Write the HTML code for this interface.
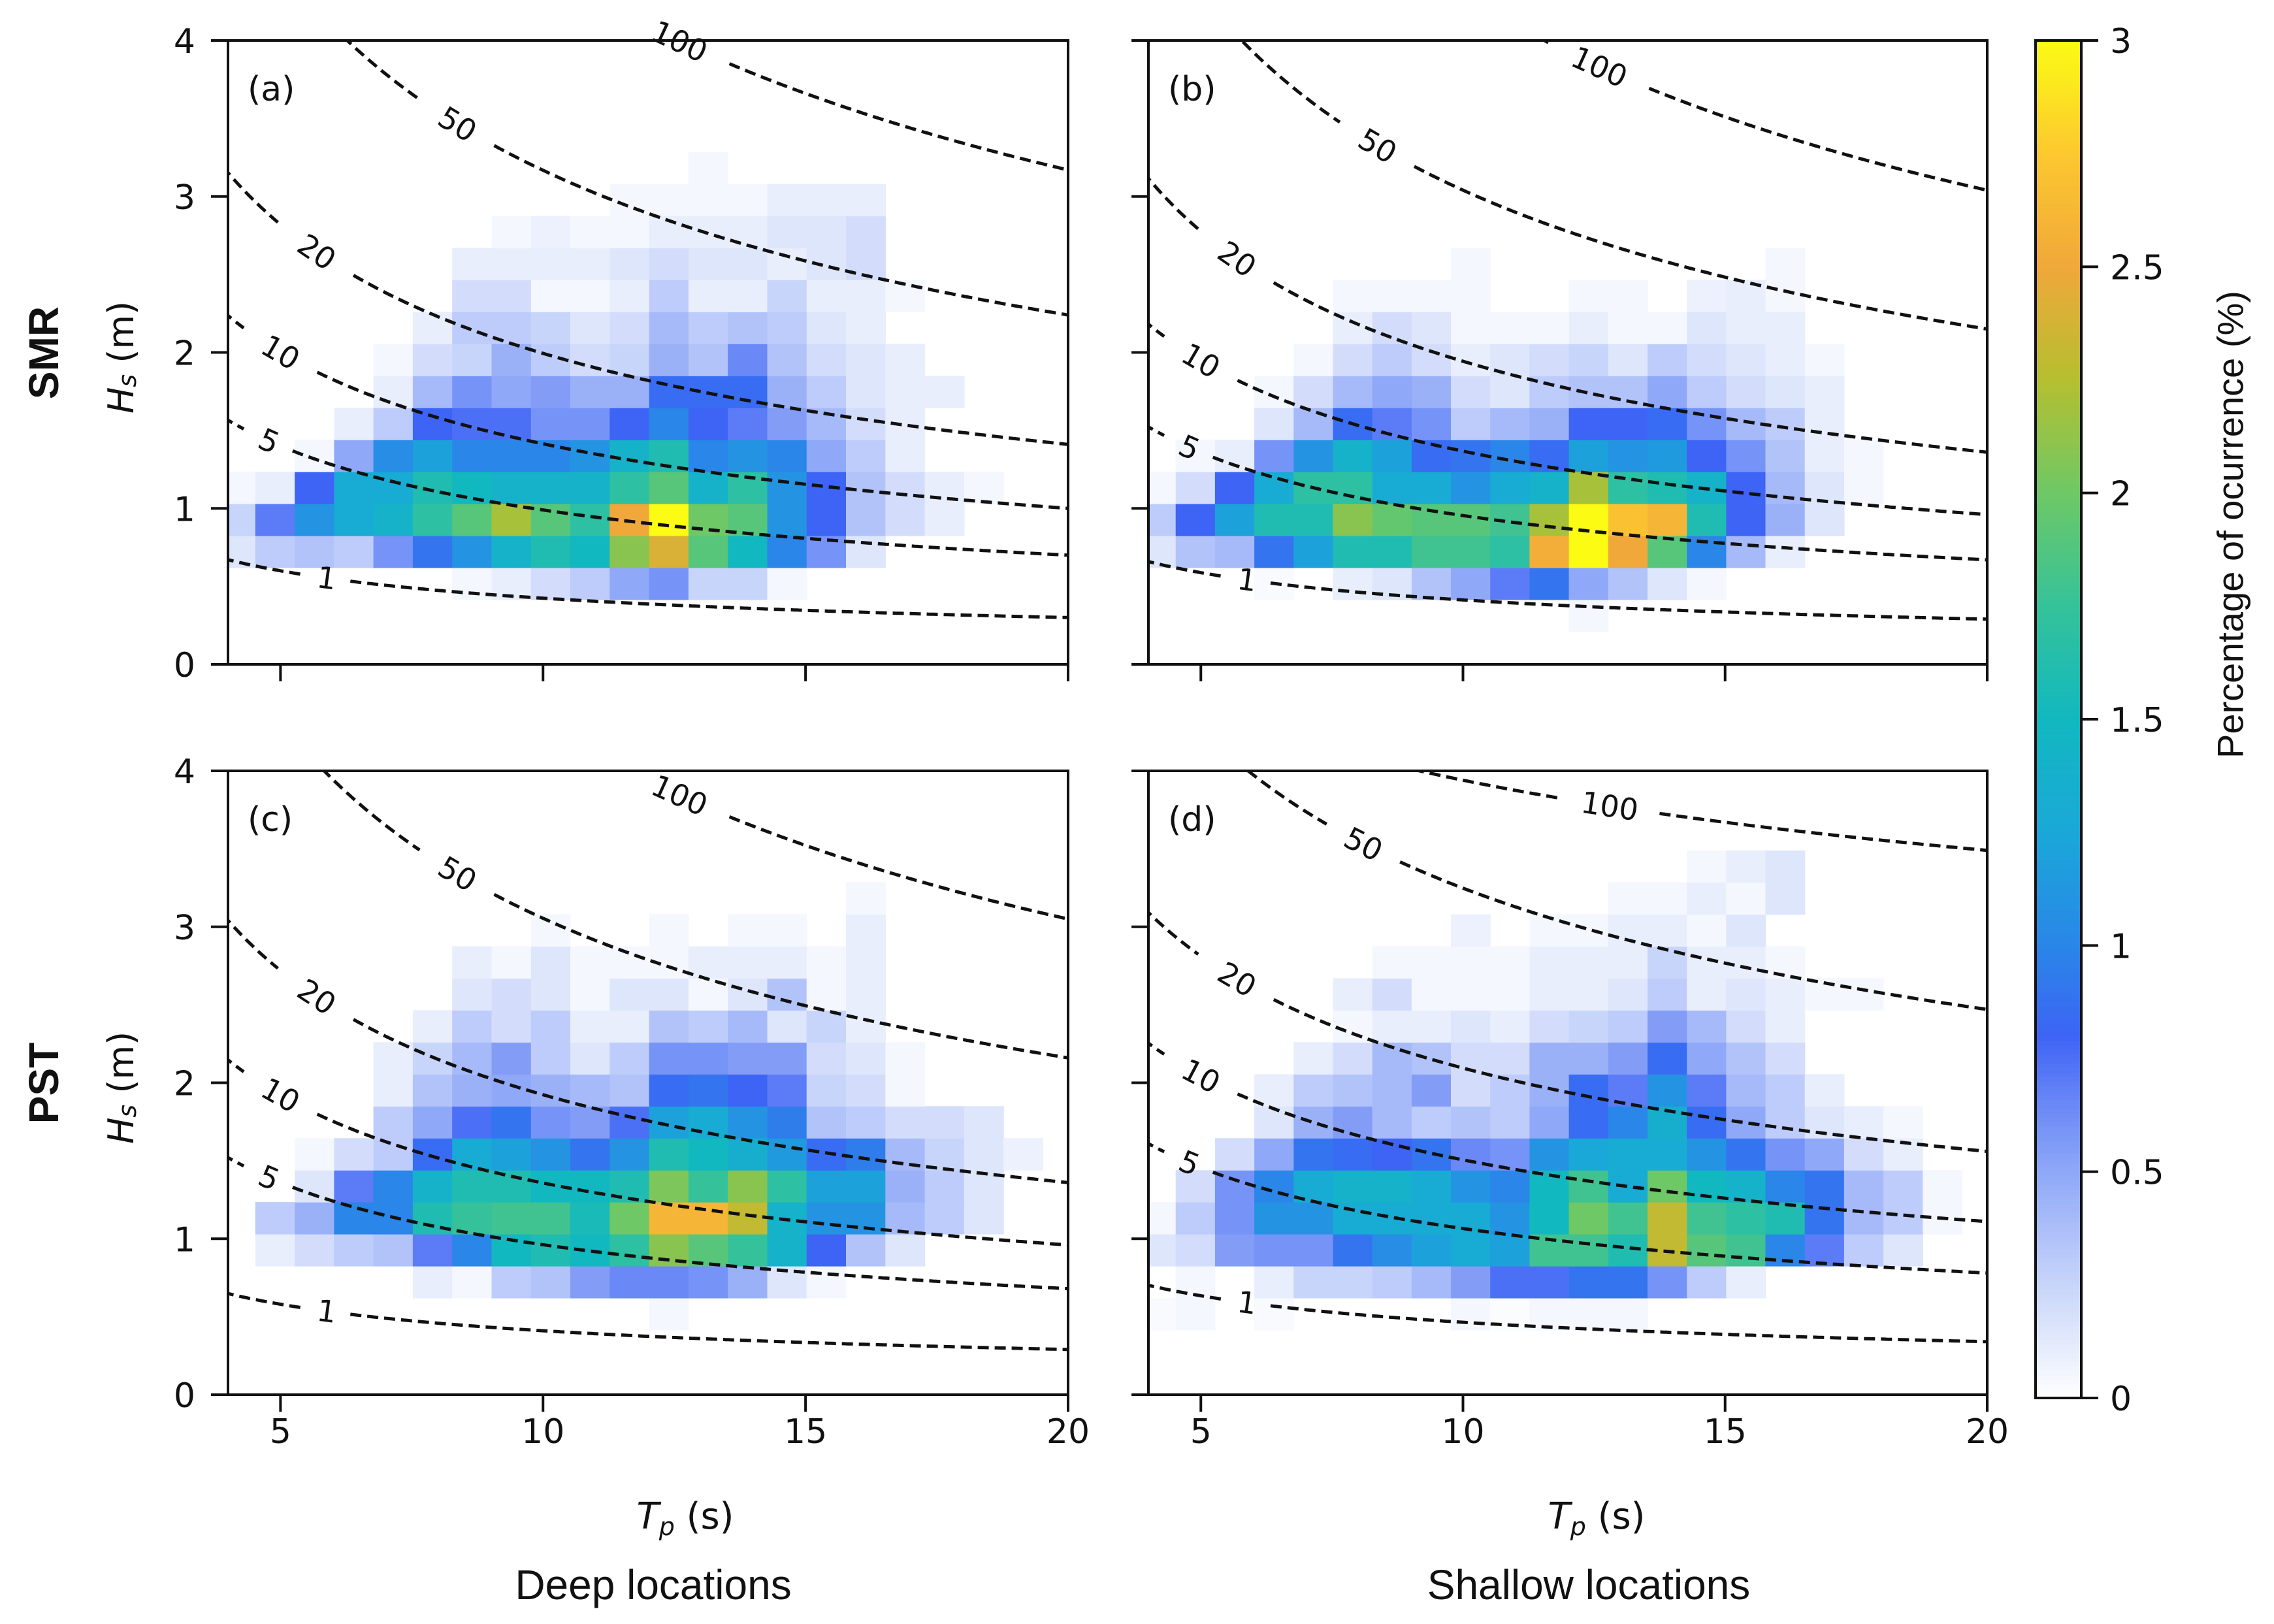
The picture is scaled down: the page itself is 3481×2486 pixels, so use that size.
<!DOCTYPE html>
<html><head><meta charset="utf-8"><style>
html,body{margin:0;padding:0;background:#fff}
svg{display:block}
text{font-family:"DejaVu Sans","Liberation Sans",sans-serif;fill:#111}
</style></head><body>
<svg id="fig" width="3481" height="2486" viewBox="0 0 3481 2486" xmlns="http://www.w3.org/2000/svg">
<defs>
<clipPath id="clipTop1"><rect x="349" y="62" width="1286" height="955"/></clipPath>
<clipPath id="clipTop2"><rect x="1758" y="62" width="1284" height="955"/></clipPath>
<clipPath id="clipBot1"><rect x="349" y="1180" width="1286" height="955"/></clipPath>
<clipPath id="clipBot2"><rect x="1758" y="1180" width="1284" height="955"/></clipPath>
</defs>
<g id="root"></g>
</svg>
<script>
// ---- data ----
const tpBinStart = [3.77,4.52,5.27,6.02,6.77,7.52,8.27,9.02,9.77,10.52,11.27,12.02,12.77,13.52,14.27,15.02,15.77,16.52,17.27,18.02,18.77,19.52];
const hsBinStart = [0.21,0.415,0.62,0.825,1.03,1.235,1.44,1.645,1.85,2.055,2.26,2.465,2.67,2.875,3.08,3.285];
const tpBinWidth = 0.75;
const hsBinWidth = 0.205;
const contourLevels = [1,5,10,20,50,100];
const contourLabelTp = [5.88,4.78,5.0,5.69,8.37,12.6];
const xTicks = [5,10,15,20];
const yTicks = [0,1,2,3,4];
const cbTicks = [0,0.5,1,1.5,2,2.5,3];
const cbTickLabels = ["0","0.5","1","1.5","2","2.5","3"];

const panelA = [
[0,0,0,0,0,0,0,0,0,0,0,0,0,0,0,0,0,0,0,0,0,0],
[0,0,0,0,0,0,.05,.1,.2,.3,.5,.6,.25,.25,.05,0,0,0,0,0,0,0],
[.15,.3,.35,.3,.6,.9,1.1,1.4,1.6,1.5,2.1,2.4,1.9,1.5,1.0,.6,.15,0,0,0,0,0],
[.25,.7,1.1,1.3,1.4,1.7,1.9,2.2,1.9,1.7,2.5,3.0,2.0,1.9,1.1,.8,.35,.2,.1,0,0,0],
[.05,.1,.8,1.3,1.3,1.6,1.5,1.4,1.4,1.4,1.7,1.9,1.4,1.7,1.1,.8,.35,.2,.1,.05,0,0],
[0,0,.05,.5,1.05,1.2,1.0,1.0,1.0,1.1,1.4,1.6,1.0,1.1,1.0,.5,.3,.1,0,0,0,0],
[0,0,0,.1,.3,.8,.75,.75,.6,.6,.8,1.0,.8,.7,.55,.4,.2,.1,0,0,0,0],
[0,0,0,0,.1,.4,.6,.5,.55,.45,.45,.85,.85,.85,.45,.3,.15,.1,.1,0,0,0],
[0,0,0,0,.05,.2,.25,.45,.3,.2,.25,.45,.35,.65,.35,.2,.15,.1,0,0,0,0],
[0,0,0,0,0,.1,.3,.3,.25,.15,.2,.4,.3,.35,.3,.15,.1,0,0,0,0,0],
[0,0,0,0,0,0,.2,.2,.05,.05,.1,.3,.1,.1,.25,.1,.1,.05,0,0,0,0],
[0,0,0,0,0,0,.1,.1,.1,.1,.15,.2,.15,.15,.1,.15,.2,0,0,0,0,0],
[0,0,0,0,0,0,0,.05,.08,.05,.05,.1,.1,.1,.15,.15,.2,0,0,0,0,0],
[0,0,0,0,0,0,0,0,0,0,.05,.05,.05,.05,.1,.1,.1,0,0,0,0,0],
[0,0,0,0,0,0,0,0,0,0,0,0,.05,0,0,0,0,0,0,0,0,0]
];
const panelB = [
[0,0,0,0,0,0,0,0,0,0,0,.05,0,0,0,0,0,0,0,0,0,0],
[0,0,0,.03,0,.1,.15,.35,.5,.7,.9,.5,.35,.15,.05,0,0,0,0,0,0,0],
[.15,.35,.4,.9,1.2,1.6,1.6,1.8,1.8,1.7,2.55,3.0,2.5,1.9,1.0,.4,.1,0,0,0,0,0],
[.3,.8,1.2,1.6,1.6,2.1,1.95,1.9,1.9,1.8,2.2,3.0,2.7,2.6,1.6,.8,.45,.15,0,0,0,0],
[.05,.2,.8,1.3,1.7,1.7,1.3,1.3,1.1,1.3,1.4,2.2,1.7,1.6,1.4,.8,.4,.15,.05,0,0,0],
[0,.05,.1,.6,1.1,1.4,1.2,.85,.9,1.0,.85,1.2,1.1,1.15,.8,.6,.35,.1,.05,0,0,0],
[0,0,0,.15,.4,.85,.7,.6,.3,.4,.45,.8,.8,.85,.6,.4,.3,.1,0,0,0,0],
[0,0,0,.05,.2,.4,.5,.45,.2,.15,.3,.35,.35,.5,.3,.2,.15,.1,0,0,0,0],
[0,0,0,0,.05,.2,.3,.2,.1,.15,.2,.25,.15,.3,.2,.15,.1,.05,0,0,0,0],
[0,0,0,0,0,.1,.2,.15,.05,.05,.05,.1,.05,.05,.15,.1,.1,0,0,0,0,0],
[0,0,0,0,0,.05,.05,.05,.05,0,0,.05,.05,0,.08,.1,.05,0,0,0,0,0],
[0,0,0,0,0,0,0,0,.05,0,0,0,0,0,0,0,.05,0,0,0,0,0]
];
const panelC = [
[0,0,0,0,0,0,0,0,0,0,0,0,0,0,0,0,0,0,0,0,0,0],
[0,0,0,0,0,0,0,0,0,0,0,.05,0,0,0,0,0,0,0,0,0,0],
[0,0,0,0,0,.1,.05,.3,.35,.55,.65,.65,.6,.45,.15,.05,0,0,0,0,0,0],
[0,.1,.2,.3,.35,.7,1.0,1.5,1.6,1.5,1.7,2.1,1.9,1.75,1.4,.8,.35,.15,0,0,0,0],
[0,.3,.45,1.0,1.0,1.6,1.75,1.8,1.8,1.55,2.0,2.6,2.6,2.3,1.4,1.1,1.1,.4,.3,.15,0,0],
[0,0,.15,.7,1.0,1.4,1.6,1.6,1.5,1.5,1.6,2.05,1.75,2.1,1.7,1.2,1.2,.45,.3,.15,0,0],
[0,0,.05,.2,.3,.85,1.3,1.2,1.1,.9,1.1,1.6,1.5,1.35,1.15,.85,.95,.4,.25,.15,.08,0],
[0,0,0,0,.3,.5,.75,.9,.6,.55,.75,1.2,1.3,1.1,.95,.35,.3,.2,.2,.15,0,0],
[0,0,0,0,.1,.35,.45,.5,.45,.4,.35,.85,.9,.8,.7,.25,.2,.05,0,0,0,0],
[0,0,0,0,.1,.25,.4,.55,.3,.15,.3,.6,.6,.55,.55,.2,.15,.05,0,0,0,0],
[0,0,0,0,0,.1,.3,.2,.3,.1,.1,.35,.3,.4,.15,.25,.1,0,0,0,0,0],
[0,0,0,0,0,0,.15,.2,.15,.05,.15,.15,.05,.15,.35,.05,.1,0,0,0,0,0],
[0,0,0,0,0,0,.1,.05,.15,.05,.05,.05,.1,.1,.1,.05,.1,0,0,0,0,0],
[0,0,0,0,0,0,0,0,.05,0,0,.05,0,.05,.05,0,.1,0,0,0,0,0],
[0,0,0,0,0,0,0,0,0,0,0,0,0,0,0,0,.05,0,0,0,0,0]
];
const panelD = [
[0,0,0,0,0,0,0,0,0,0,0,0,0,0,0,0,0,0,0,0,0,0],
[.03,.05,0,.03,0,0,0,0,.05,.02,.05,.05,.05,0,0,0,0,0,0,0,0,0],
[0,.05,0,.1,.25,.25,.3,.4,.55,.75,.75,.9,.9,.6,.3,.1,0,0,0,0,0,0],
[.15,.2,.55,.6,.6,.9,1.05,1.2,1.3,1.2,1.8,1.8,1.6,2.3,1.9,1.8,1.0,.7,.3,.15,0,0],
[.05,.3,.6,1.1,1.1,1.3,1.3,1.3,1.3,1.1,1.5,2.0,1.8,2.3,1.8,1.7,1.6,.9,.4,.3,.05,0],
[0,.2,.6,1.0,1.3,1.4,1.4,1.3,1.1,1.0,1.5,1.8,1.3,2.0,1.5,1.4,1.0,.9,.4,.3,.05,0],
[0,0,.2,.5,.9,.85,.8,.9,.65,.6,1.1,1.25,1.3,1.3,1.1,.9,.6,.5,.2,.1,0,0],
[0,0,0,.15,.45,.55,.4,.3,.35,.3,.5,.85,1.0,1.35,.85,.5,.3,.15,.1,.05,0,0],
[0,0,0,.1,.3,.35,.4,.55,.2,.3,.45,.85,.7,1.1,.7,.4,.3,.1,0,0,0,0],
[0,0,0,0,.1,.2,.4,.35,.2,.2,.45,.45,.55,.85,.5,.35,.2,0,0,0,0,0],
[0,0,0,0,0,.05,.1,.1,.15,.1,.2,.25,.3,.55,.4,.2,.1,0,0,0,0,0],
[0,0,0,0,0,.1,.2,.05,.05,.05,.1,.1,.15,.3,.1,.15,.1,.05,.05,0,0,0],
[0,0,0,0,0,0,.05,.05,.05,.05,.1,.1,.1,.25,.1,.1,.05,0,0,0,0,0],
[0,0,0,0,0,0,0,0,.08,0,.05,.05,.1,.1,.05,.15,0,0,0,0,0,0],
[0,0,0,0,0,0,0,0,0,0,0,0,.05,.05,.1,.05,.15,0,0,0,0,0],
[0,0,0,0,0,0,0,0,0,0,0,0,0,0,.05,.1,.15,0,0,0,0,0]
];
// contour curves: Hs(Tp) = endHs * sqrt((20/Tp)^exponent), per panel per level
const contourEndHsA = [0.30,0.70,1.00,1.41,2.24,3.17];
const contourEndHsB = [0.29,0.67,0.96,1.36,2.15,3.04];
const contourEndHsC = [0.29,0.68,0.96,1.36,2.16,3.05];
const contourEndHsD = [0.34,0.78,1.11,1.56,2.47,3.49];
const contourExpA = [1,1,1,1,1,1];
const contourExpB = [1.02,1.02,1.02,1.03,1.0,1.0];
const contourExpC = [1,1,1,1,1,1];
const contourExpD = [0.9,0.9,0.88,0.85,0.79,0.35];
const labelTpD = [5.88,4.78,5.0,5.69,8.1,12.8];

// ---- colormap ----
const cmStops = [[0,[255,255,255]],[0.1,[232,238,252]],[0.25,[200,213,250]],[0.5,[143,168,248]],[0.65,[106,136,246]],[0.8,[61,100,245]],[1.0,[42,134,232]],[1.25,[26,168,216]],[1.5,[18,184,192]],[1.75,[53,194,154]],[2.0,[110,200,102]],[2.25,[181,191,48]],[2.5,[240,168,58]],[2.75,[252,200,48]],[3.0,[251,251,20]]];
function cmap(v){
  if(v<=0) return 'rgb(255,255,255)';
  if(v>=3) v=3;
  for(let i=1;i<cmStops.length;i++){
    if(v<=cmStops[i][0]){
      const [a,ca]=cmStops[i-1],[b,cb]=cmStops[i];const t=(v-a)/(b-a);
      return 'rgb('+ca.map((c,j)=>Math.round(c+(cb[j]-c)*t)).join(',')+')';
    }
  }
}
const NS='http://www.w3.org/2000/svg';
const root=document.getElementById('root');
function mk(tag,attrs,parent){const e=document.createElementNS(NS,tag);for(const k in attrs)e.setAttribute(k,attrs[k]);(parent||root).appendChild(e);return e;}
function txt(s,attrs,parent){const e=mk('text',attrs,parent);e.textContent=s;return e;}

const panels=[
 {id:'a',x0:349,x1:1635,yb:1017,yt:62,data:panelA,clip:'clipTop1',ticklabels:false,endHs:contourEndHsA,exp:contourExpA,ltp:contourLabelTp},
 {id:'b',x0:1758,x1:3042,yb:1017,yt:62,data:panelB,clip:'clipTop2',ticklabels:false,endHs:contourEndHsB,exp:contourExpB,ltp:contourLabelTp},
 {id:'c',x0:349,x1:1635,yb:2135,yt:1180,data:panelC,clip:'clipBot1',ticklabels:true,endHs:contourEndHsC,exp:contourExpC,ltp:contourLabelTp},
 {id:'d',x0:1758,x1:3042,yb:2135,yt:1180,data:panelD,clip:'clipBot2',ticklabels:true,endHs:contourEndHsD,exp:contourExpD,ltp:labelTpD}
];
panels.forEach((p,pi)=>{
  const sx=(p.x1-p.x0)/16, sy=(p.yb-p.yt)/4;
  const X=t=>p.x0+(t-4)*sx, Y=h=>p.yb-h*sy;
  const g=mk('g',{'clip-path':'url(#'+p.clip+')'});
  
  
  p.data.forEach((row,r)=>{
    row.forEach((v,j)=>{
      if(v<=0) return;
      const x=X(tpBinStart[j]), x2=X(tpBinStart[j]+tpBinWidth);
      const y=Y(hsBinStart[r]+hsBinWidth), y2=Y(hsBinStart[r]);
      const c=mk('rect',{x:x.toFixed(1),y:y.toFixed(1),width:(x2-x+0.6).toFixed(1),height:(y2-y+0.6).toFixed(1),fill:cmap(v)},g);
      
      
    });
  });
  contourLevels.forEach((P,li)=>{
    const H=t=>p.endHs[li]*Math.sqrt(Math.pow(20/t,p.exp[li]));
    const lt=p.ltp[li];
    const gap=(String(P).length===1?0.45:(String(P).length===2?0.7:0.95));
    const segs=[[3.9,lt-gap],[lt+gap,20.1]];
    segs.forEach(s=>{
      let d='';
      for(let t=s[0];t<=s[1]+1e-9;t+=0.05){d+=(d?'L':'M')+X(t).toFixed(1)+','+Y(H(t)).toFixed(1);}
      const pth=mk('path',{d:d,fill:'none',stroke:'#111','stroke-width':5,'stroke-dasharray':'17 9'},g);
      
      
    });
    const lx=X(lt), ly=Y(H(lt));
    const dx=X(lt+0.1)-lx, dy=Y(H(lt+0.1))-ly;
    const ang=Math.atan2(dy,dx)*180/Math.PI;
    const lbl=txt(String(P),{x:lx.toFixed(1),y:ly.toFixed(1),'font-size':46,'text-anchor':'middle','dominant-baseline':'central',transform:'rotate('+ang.toFixed(1)+' '+lx.toFixed(1)+' '+ly.toFixed(1)+')'});
    
    
  });
  const ax=mk('rect',{x:p.x0,y:p.yt,width:p.x1-p.x0,height:p.yb-p.yt,fill:'none',stroke:'#111','stroke-width':4});
  
  
  xTicks.forEach(t=>{
    const tk=mk('line',{x1:X(t),x2:X(t),y1:p.yb,y2:p.yb+26,stroke:'#111','stroke-width':4});
    
    
    if(p.ticklabels){
      const tl=txt(String(t),{x:X(t),y:p.yb+74,'font-size':52,'text-anchor':'middle'});
      
      
    }
  });
  yTicks.forEach(h=>{
    const tk=mk('line',{x1:p.x0-26,x2:p.x0,y1:Y(h),y2:Y(h),stroke:'#111','stroke-width':4});
    
    
    if(pi%2===0){
      const tl=txt(String(h),{x:p.x0-50,y:Y(h)+19,'font-size':52,'text-anchor':'end'});
      
      
    }
  });
  const pl=txt('('+p.id+')',{x:p.x0+30,y:p.yt+92,'font-size':52});
  
  
});

// colorbar
const cbX=3116, cbW=70, cbTop=62, cbBot=2140;
const cbg=mk('g',{});


for(let i=0;i<300;i++){
  const v0=i*0.01, y=cbBot-(v0+0.01)/3*(cbBot-cbTop);
  mk('rect',{x:cbX,y:y.toFixed(1),width:cbW,height:((cbBot-cbTop)/300+0.8).toFixed(1),fill:cmap(v0+0.005)},cbg);
}
mk('rect',{x:cbX,y:cbTop,width:cbW,height:cbBot-cbTop,fill:'none',stroke:'#111','stroke-width':4},cbg);
cbTicks.forEach((v,i)=>{
  const y=cbBot-v/3*(cbBot-cbTop);
  const tk=mk('line',{x1:cbX+cbW,x2:cbX+cbW+26,y1:y,y2:y,stroke:'#111','stroke-width':4});
  
  
  const tl=txt(cbTickLabels[i],{x:cbX+cbW+44,y:y+19,'font-size':52});
  
  
});
</script>
<svg style="position:absolute;left:0;top:0" width="3481" height="2486" viewBox="0 0 3481 2486" xmlns="http://www.w3.org/2000/svg">
<text x="3414" y="803" font-size="56" text-anchor="middle" transform="rotate(-90 3414 803)" style="font-family:'Liberation Sans',sans-serif" dominant-baseline="central">Percentage of ocurrence (%)</text>
<text x="67" y="540" font-size="64" font-weight="bold" text-anchor="middle" transform="rotate(-90 67 540)" dominant-baseline="central" style="font-family:'Liberation Sans',sans-serif">SMR</text>
<text x="67" y="1658" font-size="64" font-weight="bold" text-anchor="middle" transform="rotate(-90 67 1658)" dominant-baseline="central" style="font-family:'Liberation Sans',sans-serif">PST</text>
<text x="185" y="547" font-size="54" text-anchor="middle" transform="rotate(-90 185 547)" dominant-baseline="central"><tspan font-style="italic">H</tspan><tspan font-style="italic" font-size="38" dy="10">s</tspan><tspan dy="-10"> (m)</tspan></text>
<text x="185" y="1665" font-size="54" text-anchor="middle" transform="rotate(-90 185 1665)" dominant-baseline="central"><tspan font-style="italic">H</tspan><tspan font-style="italic" font-size="38" dy="10">s</tspan><tspan dy="-10"> (m)</tspan></text>
<text x="1049" y="2340" font-size="56" text-anchor="middle"><tspan font-style="italic">T</tspan><tspan font-style="italic" font-size="38" dy="10">p</tspan><tspan dy="-10"> (s)</tspan></text>
<text x="2444" y="2340" font-size="56" text-anchor="middle"><tspan font-style="italic">T</tspan><tspan font-style="italic" font-size="38" dy="10">p</tspan><tspan dy="-10"> (s)</tspan></text>
<text x="1000" y="2448" font-size="64" text-anchor="middle" style="font-family:'Liberation Sans',sans-serif">Deep locations</text>
<text x="2432" y="2448" font-size="64" text-anchor="middle" style="font-family:'Liberation Sans',sans-serif">Shallow locations</text>
</svg>
</body></html>
